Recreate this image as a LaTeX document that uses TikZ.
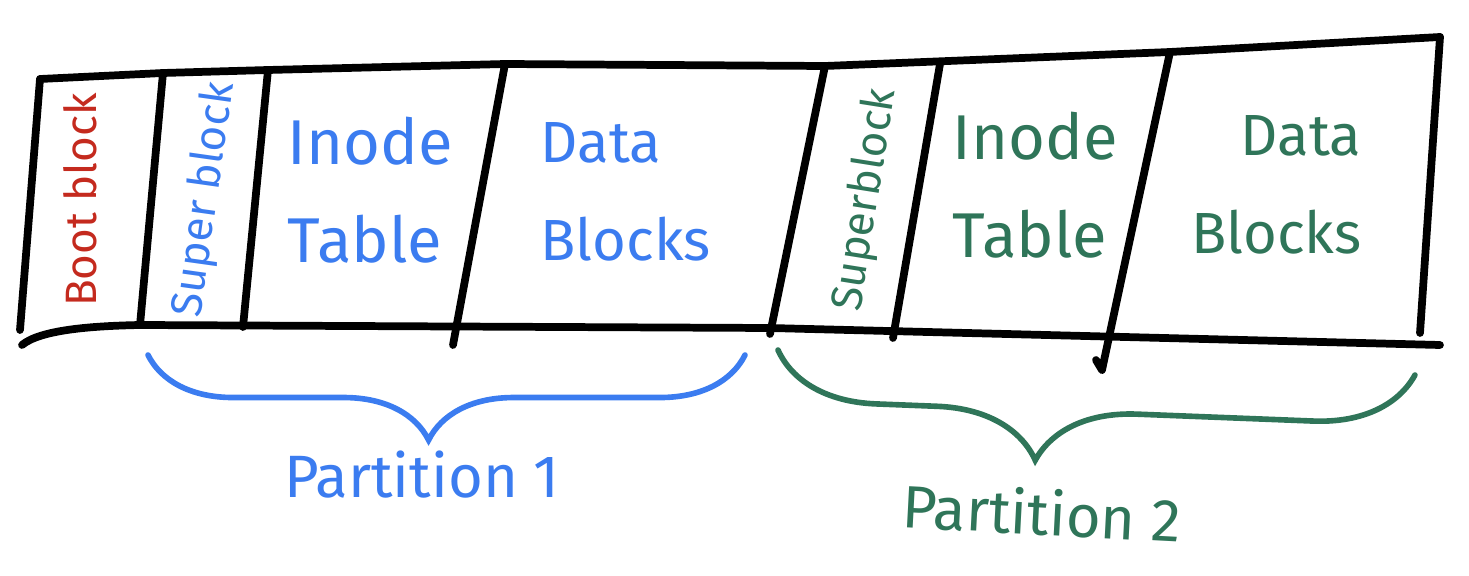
\documentclass[tikz,border=0pt]{standalone}
\usepackage{fontspec}
\setmainfont{Fira Sans}
\usepackage{tikz}
\usetikzlibrary{calc,decorations.pathreplacing}

\definecolor{bootred}{HTML}{C42A1E}
\definecolor{partblue}{HTML}{3B7CF0}
\definecolor{partgreen}{HTML}{2F7559}

\tikzset{
  edge/.style={line width=2.2pt, line cap=round, line join=round},
  brc/.style={decorate, decoration={brace, mirror, amplitude=#1}, line width=1.6pt, line cap=round},
  cell/.style={font=\fontsize{18}{28}\selectfont, inner sep=0pt},
  side/.style={font=\fontsize{12.5}{14}\selectfont, inner sep=0pt},
  part/.style={font=\fontsize{17}{20}\selectfont, inner sep=0pt},
}

\begin{document}
\begin{tikzpicture}[x=0.01cm, y=-0.01cm]
\useasboundingbox (0,0) rectangle (1469,576);

% corners of the strip
\coordinate (t0) at (40,79);
\coordinate (t1) at (163,73);
\coordinate (t2) at (268,70);
\coordinate (t3) at (505,64);
\coordinate (t4) at (825,66);
\coordinate (t5) at (940,64);
\coordinate (t6) at (1170,52);
\coordinate (t7) at (1440,37);
\coordinate (b0) at (20,330);
\coordinate (b1) at (140,325);
\coordinate (b2) at (243,327);
\coordinate (b3) at (453,345);
\coordinate (b4) at (770,334);
\coordinate (b5) at (893,338);
\coordinate (b6) at (1102,370);
\coordinate (b7) at (1420,333);
\coordinate (bl) at (22,345);
\coordinate (br) at (1440,345);

% outline
\draw[edge] (t0) -- (t1) -- (t2) -- (t3) -- (t4) -- (t6) -- (t7);
\draw[edge] (bl) .. controls (40,330) and (90,326) .. (b1) -- (770,328) -- (br);
\draw[edge] (t0) -- (b0);
\draw[edge] (t1) -- (b1);
\draw[edge] (t2) -- (b2);
\draw[edge] (t3) -- (b3);
\draw[edge] (t4) -- (b4);
\draw[edge] (t5) -- (b5);
\draw[edge] (t6) -- (b6) -- ($(b6)+(-6,-10)$);
\draw[edge] (t7) -- (b7);

% cell labels
\node[side, text=bootred, rotate=90] (boot) at (80,200) {Boot block};
\node[side, text=partblue, rotate=82] (sup1) at (205,200) {Super block};
\node[cell, text=partblue, align=left, anchor=west] (inode1) at (287,190) {Inode\\Table};
\node[cell, text=partblue, align=left, anchor=west, font=\fontsize{16.5}{28}\selectfont] (data1) at (540,192) {Data\\Blocks};
\node[side, text=partgreen, rotate=81] (sup2) at (866,200) {Superblock};
\node[cell, text=partgreen, align=left, anchor=west] (inode2) at (952,185) {Inode\\Table};
\node[cell, text=partgreen, align=right, anchor=east, font=\fontsize{16.5}{28}\selectfont] (data2) at (1362,185) {Data\\Blocks};

% partitions
\coordinate (p1a) at (148,355);
\coordinate (p1b) at (745,355);
\coordinate (p2a) at (778,350);
\coordinate (p2b) at (1415,375);
\draw[brc=0.85cm, partblue, decoration={aspect=0.47}] (p1a) -- (p1b);
\draw[brc=1cm, partgreen, decoration={aspect=0.41}] (p2a) -- (p2b);
\node[part, text=partblue] (part1) at (422,475) {Partition 1};
\node[part, text=partgreen, rotate=-3] (part2) at (1042,512) {Partition 2};
\end{tikzpicture}
\end{document}
